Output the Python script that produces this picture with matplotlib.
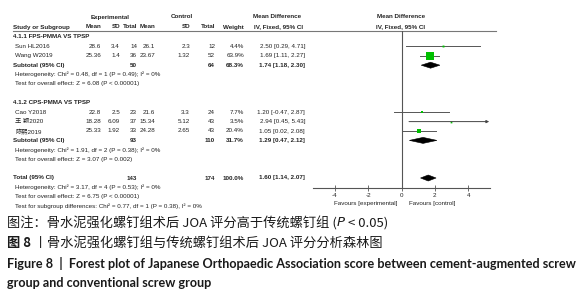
import numpy as np
import matplotlib.pyplot as plt
from matplotlib.patches import Polygon

# ---- data ----
groups = ["4.1.1 FPS-PMMA VS TPSP", "4.1.2 CPS-PMMA VS TPSP"]

studies_1 = ["Sun HL2016", "Wang W2019"]
exp_mean_1 = ["28.6", "25.36"]
exp_sd_1 = ["3.4", "1.4"]
exp_n_1 = [14, 36]
ctl_mean_1 = ["26.1", "23.67"]
ctl_sd_1 = ["2.3", "1.32"]
ctl_n_1 = [12, 52]
weight_1 = [4.4, 63.9]
md_1 = [2.50, 1.69]
lo_1 = [0.29, 1.11]
hi_1 = [4.71, 2.27]

studies_2 = ["Cao Y2018", "王 颖2020", "陈熙2019"]
exp_mean_2 = ["22.8", "18.28", "25.33"]
exp_sd_2 = ["2.5", "6.09", "1.92"]
exp_n_2 = [23, 37, 33]
ctl_mean_2 = ["21.6", "15.34", "24.28"]
ctl_sd_2 = ["3.3", "5.12", "2.65"]
ctl_n_2 = [24, 43, 43]
weight_2 = [7.7, 3.5, 20.4]
md_2 = [1.20, 2.94, 1.05]
lo_2 = [-0.47, 0.45, 0.02]
hi_2 = [2.87, 5.43, 2.08]

sub_md = [1.74, 1.29]
sub_lo = [1.18, 0.47]
sub_hi = [2.30, 2.12]
sub_w = [68.3, 31.7]
sub_exp_n = [50, 93]
sub_ctl_n = [64, 110]
het_text = ["Heterogeneity: Chi² = 0.48, df = 1 (P = 0.49); I² = 0%",
            "Heterogeneity: Chi² = 1.91, df = 2 (P = 0.38); I² = 0%"]
z_text = ["Test for overall effect: Z = 6.08 (P < 0.00001)",
          "Test for overall effect: Z = 3.07 (P = 0.002)"]

total_md, total_lo, total_hi = 1.60, 1.14, 2.07
total_exp_n, total_ctl_n = 143, 174
total_notes = ["Heterogeneity: Chi² = 3.17, df = 4 (P = 0.53); I² = 0%",
               "Test for overall effect: Z = 6.75 (P < 0.00001)",
               "Test for subgroup differences: Chi² = 0.77, df = 1 (P = 0.38), I² = 0%"]

ticks = [-4, -2, 0, 2, 4]
xmin, xmax = -5.3, 5.3

# ---- layout ----
W, H = 588, 300
ROW0, ROW_H = 37, 9.4
AX_TOP, AX_BOT, AX_L, AX_R = 31, 188, 313, 490
FS = 4.5
TXT = "#222222"

plt.rcParams['font.family'] = ['Liberation Sans', 'Noto Sans CJK SC']

fig = plt.figure(figsize=(W / 100, H / 100), dpi=100)
tab = fig.add_axes([0, 0, 1, 1])
tab.set_xlim(0, W)
tab.set_ylim(H, 0)
tab.axis("off")

ax = fig.add_axes([AX_L / W, 1 - AX_BOT / H, (AX_R - AX_L) / W, (AX_BOT - AX_TOP) / H])
ax.set_xlim(xmin, xmax)
ax.set_ylim(AX_BOT, AX_TOP)
ax.patch.set_alpha(0)


def ypos(r):
    return ROW0 + ROW_H * r


# column right edges
cols = [101, 120, 137, 155, 190, 215, 244, 305]


def row_text(r, values, bold=False):
    for x, v in zip(cols, values):
        if v == "":
            continue
        tab.text(x, ypos(r), v, ha="right", va="center", fontsize=FS, color=TXT,
                 fontweight="bold" if bold else "normal")


def label(r, s, bold=False, x=13):
    tab.text(x, ypos(r), s, ha="left", va="center", fontsize=FS, color=TXT,
             fontweight="bold" if bold else "normal")


# headers
tab.text(110, 17, "Experimental", ha="center", va="center", fontsize=FS, fontweight="bold", color=TXT)
tab.text(182, 17, "Control", ha="center", va="center", fontsize=FS, fontweight="bold", color=TXT)
tab.text(277, 17, "Mean Difference", ha="center", va="center", fontsize=FS, fontweight="bold", color=TXT)
tab.text(401, 17, "Mean Difference", ha="center", va="center", fontsize=FS, fontweight="bold", color=TXT)
tab.text(13, 27, "Study or Subgroup", ha="left", va="center", fontsize=FS, fontweight="bold", color=TXT)
for x, s in zip(cols[:7], ["Mean", "SD", "Total", "Mean", "SD", "Total", "Weight"]):
    tab.text(x, 27, s, ha="right", va="center", fontsize=FS, fontweight="bold", color=TXT)
tab.text(279, 27, "IV, Fixed, 95% CI", ha="center", va="center", fontsize=FS, fontweight="bold", color=TXT)
tab.text(401, 27, "IV, Fixed, 95% CI", ha="center", va="center", fontsize=FS, fontweight="bold", color=TXT)
tab.plot([13, 496], [31, 31], color="#777777", lw=0.8)

blocks = [
    (studies_1, exp_mean_1, exp_sd_1, exp_n_1, ctl_mean_1, ctl_sd_1, ctl_n_1, weight_1, md_1, lo_1, hi_1),
    (studies_2, exp_mean_2, exp_sd_2, exp_n_2, ctl_mean_2, ctl_sd_2, ctl_n_2, weight_2, md_2, lo_2, hi_2),
]


def diamond(r, m, lo, hi):
    y = ypos(r)
    ax.add_patch(Polygon([(lo, y), (m, y - 3), (hi, y), (m, y + 3)], closed=True,
                         facecolor="black", edgecolor="black", lw=0.4))


r = 0
for g, (names, em, es, en, cm, cs, cn, w, md, lo, hi) in enumerate(blocks):
    label(r, groups[g], bold=True)
    r += 1
    for i in range(len(names)):
        label(r, names[i], x=15)
        row_text(r, [em[i], es[i], str(en[i]), cm[i], cs[i], str(cn[i]), f"{w[i]:.1f}%",
                     f"{md[i]:.2f} [{lo[i]:.2f}, {hi[i]:.2f}]"])
        y = ypos(r)
        if hi[i] > xmax:
            ax.annotate("", xy=(xmax - 0.05, y), xytext=(lo[i], y),
                        arrowprops=dict(arrowstyle="-|>", color="#444444", lw=0.7,
                                        mutation_scale=4, shrinkA=0, shrinkB=0))
        else:
            ax.plot([lo[i], hi[i]], [y, y], color="#555555", lw=0.7)
        ax.plot(md[i], y, marker="s", color="#00c000", ms=0.66 * np.sqrt(w[i]), mew=0)
        r += 1
    label(r, "Subtotal (95% CI)", bold=True)
    row_text(r, ["", "", str(sub_exp_n[g]), "", "", str(sub_ctl_n[g]), f"{sub_w[g]:.1f}%",
                 f"{sub_md[g]:.2f} [{sub_lo[g]:.2f}, {sub_hi[g]:.2f}]"], bold=True)
    diamond(r, sub_md[g], sub_lo[g], sub_hi[g])
    r += 1
    label(r, het_text[g], x=15)
    r += 1
    label(r, z_text[g], x=15)
    r += 2

label(r, "Total (95% CI)", bold=True)
row_text(r, ["", "", str(total_exp_n), "", "", str(total_ctl_n), "100.0%",
             f"{total_md:.2f} [{total_lo:.2f}, {total_hi:.2f}]"], bold=True)
diamond(r, total_md, total_lo, total_hi)
for k, s in enumerate(total_notes):
    label(r + 1 + k, s, x=15)

# forest axes styling
ax.axvline(0, color="#555555", lw=0.8)
for side in ["top", "right", "left"]:
    ax.spines[side].set_visible(False)
ax.spines["bottom"].set_color("#555555")
ax.spines["bottom"].set_linewidth(0.8)
ax.set_yticks([])
ax.set_xticks(ticks)
ax.set_xticklabels([str(t) for t in ticks])
ax.tick_params(axis="x", direction="inout", length=4, width=0.6, color="#555555",
               labelsize=FS, labelcolor=TXT, pad=1.5)
tab.text(397, 204, "Favours [experimental]", ha="right", va="center", fontsize=FS, color=TXT)
tab.text(409, 204, "Favours [control]", ha="left", va="center", fontsize=FS, color=TXT)

# ---- captions ----
cjk = ['Noto Sans CJK SC', 'DejaVu Sans']
renderer = fig.canvas.get_renderer()


def chain(x, y, parts):
    for s, kw in parts:
        t = tab.text(x, y, s, ha="left", va="center", **kw)
        bb = t.get_window_extent(renderer)
        x = tab.transData.inverted().transform((bb.x1, bb.y0))[0]


base = dict(fontsize=9.5, family=cjk, color="#1a1a1a")
chain(7, 223, [("图注：骨水泥强化螺钉组术后 JOA 评分高于传统螺钉组 (", base),
               ("P", dict(base, style="italic", family=['DejaVu Sans'])),
               (" < 0.05)", base)])
chain(7, 243, [("图 8 ", dict(base, fontweight="bold")),
               ("丨", base),
               ("骨水泥强化螺钉组与传统螺钉组术后 JOA 评分分析森林图", base)])
eng = dict(ha="left", va="center", fontsize=9.1, family=['Lato', 'DejaVu Sans'],
           fontweight="bold", color="#1a1a1a")
tab.text(7, 263, "Figure 8  |  Forest plot of Japanese Orthopaedic Association score between cement-augmented screw", **eng)
tab.text(7, 283, "group and conventional screw group", **eng)

fig.savefig("out.png", dpi=100)
